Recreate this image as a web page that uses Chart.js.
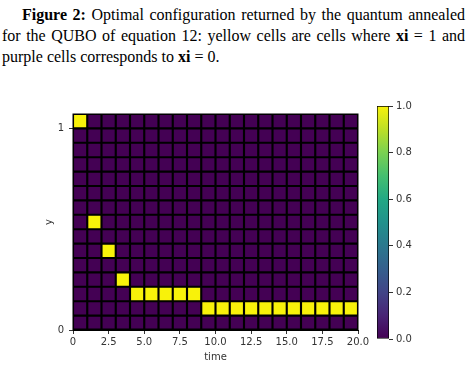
<!DOCTYPE html>
<html>
<head>
<meta charset="utf-8">
<script src="https://cdn.jsdelivr.net/npm/chart.js@4.4.0/dist/chart.umd.min.js"></script>
<style>
  body { margin: 0; width: 473px; height: 367px; background: #fff; position: relative; overflow: hidden; }
  #caption { position: absolute; left: 2px; top: 4px; width: 463px; font-family: "Liberation Serif", "Times New Roman", serif; font-size: 16px; line-height: 21px; color: #000; }
  #caption .j { text-align: justify; text-align-last: justify; }
  #caption .first { padding-left: 20px; }
  #main { position: absolute; left: 0; top: 90px; }
  #cbar { position: absolute; left: 370px; top: 96px; }
</style>
</head>
<body>
<div id="caption">
  <div class="j first"><b>Figure 2:</b> Optimal configuration returned by the quantum annealed</div>
  <div class="j">for the QUBO of equation 12: yellow cells are cells where <b>xi</b> = 1 and</div>
  <div>purple cells corresponds to <b>xi</b> = 0.</div>
</div>
<canvas id="main" width="473" height="277"></canvas>
<canvas id="cbar" width="60" height="260"></canvas>
<script>
// time steps (columns of the grid)
var timeSteps = [0, 1, 2, 3, 4, 5, 6, 7, 8, 9, 10, 11, 12, 13, 14, 15, 16, 17, 18, 19];
var rowCount = 15;
// row (counted from the bottom) where xi = 1 at each time step
var activeRow = [14, 7, 5, 3, 2, 2, 2, 2, 2, 1, 1, 1, 1, 1, 1, 1, 1, 1, 1, 1];
var xTicks = [0, 2.5, 5, 7.5, 10, 12.5, 15, 17.5, 20];
var yTicks = [0, 1];
var cbTicks = [0, 0.2, 0.4, 0.6, 0.8, 1.0];
var viridis = ["#440154", "#482475", "#414487", "#355f8d", "#2a788e", "#21918c",
               "#22a884", "#44bf70", "#7ad151", "#bddf26", "#f8f20a"];

function cmap(v) {
  return viridis[Math.round(v * (viridis.length - 1))];
}

// build the cells
var cells = [];
for (var c = 0; c < timeSteps.length; c++) {
  for (var r = 0; r < rowCount; r++) {
    cells.push({
      x: timeSteps[c] + 0.5,
      y: [r / (rowCount - 1), (r + 1) / (rowCount - 1)],
      v: activeRow[c] === r ? 1 : 0
    });
  }
}

var tickFont = { family: "DejaVu Sans", size: 10 };

// black behind the cells, like the gaps between pcolor cells
var blackPlot = {
  id: "blackPlot",
  beforeDatasetsDraw: function (chart) {
    var a = chart.chartArea, g = chart.ctx;
    g.save();
    g.fillStyle = "#000";
    g.fillRect(a.left - 0.5, a.top - 0.5, a.right - a.left + 1, a.bottom - a.top + 1);
    g.restore();
  }
};

new Chart(document.getElementById("main"), {
  type: "bar",
  data: {
    datasets: [{
      data: cells,
      backgroundColor: function (ctx) { return cmap(ctx.raw ? ctx.raw.v : 0); },
      borderColor: "#000",
      borderWidth: 1.4,
      borderSkipped: false,
      barPercentage: 1,
      categoryPercentage: 1
    }]
  },
  options: {
    responsive: false,
    animation: false,
    layout: { padding: { left: 38, top: 24, right: 115, bottom: 0 } },
    plugins: { legend: { display: false }, tooltip: { enabled: false } },
    scales: {
      x: {
        type: "linear",
        min: 0,
        max: 20,
        offset: false,
        afterBuildTicks: function (s) { s.ticks = xTicks.map(function (v) { return { value: v }; }); },
        afterFit: function (s) { s.height = 37; },
        ticks: {
          autoSkip: false, maxRotation: 0, padding: 2, color: "#333", font: tickFont,
          callback: function (v) { return v === 0 ? "0" : Number(v).toFixed(1); }
        },
        grid: { drawOnChartArea: false, offset: false, tickLength: 4, color: "#333" },
        border: { display: true, color: "#000" },
        title: { display: true, text: "time", color: "#333", font: tickFont, padding: { top: 0, bottom: 4 } }
      },
      y: {
        type: "linear",
        min: 0,
        max: rowCount / (rowCount - 1),
        afterBuildTicks: function (s) { s.ticks = yTicks.map(function (v) { return { value: v }; }); },
        afterFit: function (s) { s.width = 35; },
        ticks: { padding: 5, color: "#333", font: tickFont, callback: function (v) { return String(v); } },
        grid: { drawOnChartArea: false, tickLength: 4, color: "#333" },
        border: { display: true, color: "#000" },
        title: { display: true, text: "y", color: "#333", font: tickFont, padding: { top: 5, bottom: 0 } }
      }
    }
  },
  plugins: [blackPlot]
});

// colour bar
new Chart(document.getElementById("cbar"), {
  type: "bar",
  data: {
    labels: [""],
    datasets: [{
      data: [[cbTicks[0], cbTicks[cbTicks.length - 1]]],
      backgroundColor: function (ctx) {
        var area = ctx.chart.chartArea;
        if (!area) return viridis[0];
        var grad = ctx.chart.ctx.createLinearGradient(0, area.bottom, 0, area.top);
        for (var i = 0; i < viridis.length; i++) {
          grad.addColorStop(i / (viridis.length - 1), viridis[i]);
        }
        return grad;
      },
      borderColor: "#000",
      borderWidth: 1,
      borderSkipped: false,
      barPercentage: 1,
      categoryPercentage: 1
    }]
  },
  options: {
    responsive: false,
    animation: false,
    layout: { padding: { left: 7, top: 10, right: 0, bottom: 17 } },
    plugins: { legend: { display: false }, tooltip: { enabled: false } },
    scales: {
      x: { display: false },
      y: {
        position: "right",
        min: 0,
        max: 1,
        afterBuildTicks: function (s) { s.ticks = cbTicks.map(function (v) { return { value: v }; }); },
        afterFit: function (s) { s.width = 41; },
        ticks: { padding: 3, color: "#333", font: tickFont, callback: function (v) { return Number(v).toFixed(1); } },
        grid: { drawOnChartArea: false, tickLength: 4, color: "#333" },
        border: { display: false }
      }
    }
  }
});
</script>
</body>
</html>
